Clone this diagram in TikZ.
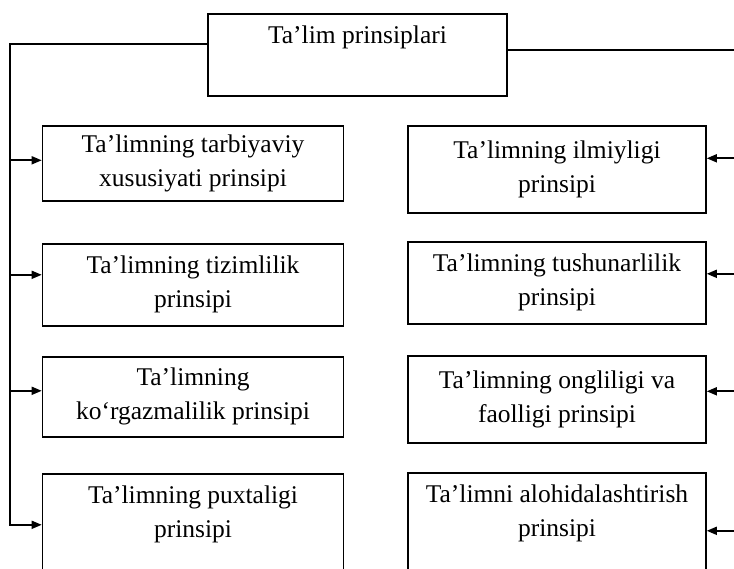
\documentclass[tikz,border=0pt]{standalone}
\usepackage{fontspec}
\setmainfont{Liberation Serif}
\usetikzlibrary{arrows.meta,positioning}

\tikzset{
  frame/.style={draw, line width=1.6pt, inner sep=0pt},
  box/.style={frame, minimum width=301pt, align=center, font=\fontsize{25.5}{34}\selectfont},
  rbox/.style={box, minimum width=298pt},
  caption/.style={inner sep=0pt, align=center, font=\fontsize{25.5}{34}\selectfont},
  feed/.style={line width=1.6pt, -{Triangle[length=10pt,width=8pt]}},
}

\begin{document}
\begin{tikzpicture}[x=1pt,y=-1pt]
  \clip (0,0) rectangle (734,569);
  \fill[white] (0,0) rectangle (734,569);

  % root box, text near its top
  \node[frame, minimum width=299pt, minimum height=82pt, anchor=north] (root) at (357.5,13) {};
  \node[caption, below=13pt of root.north] (roottext) {Ta’lim prinsiplari};

  % left column
  \node[box, minimum height=75pt, anchor=north] (l1) at (193,125) {Ta’limning tarbiyaviy\\xususiyati prinsipi};
  \node[box, minimum height=82pt, anchor=north] (l2) at (193,243) {Ta’limning tizimlilik\\prinsipi};
  \node[box, minimum height=80pt, anchor=north] (l3) at (193,356) {Ta’limning\\ko‘rgazmalilik prinsipi};
  \node[frame, minimum width=301pt, minimum height=102pt, anchor=north] (l4) at (193,473) {};
  \node[caption, below=13pt of l4.north] (l4text) {Ta’limning puxtaligi\\prinsipi};

  % right column
  \node[rbox, minimum height=87pt, anchor=north] (r1) at (557,125) {Ta’limning ilmiyligi\\prinsipi};
  \node[rbox, minimum height=82pt, anchor=north] (r2) at (557,241) {Ta’limning tushunarlilik\\prinsipi};
  \node[rbox, minimum height=87pt, anchor=north] (r3) at (557,355) {Ta’limning ongliligi va\\faolligi prinsipi};
  \node[frame, minimum width=298pt, minimum height=116pt, anchor=north] (r4) at (557,472) {};
  \node[caption, below=13pt of r4.north] (r4text) {Ta’limni alohidalashtirish\\prinsipi};

  % arrow ends, a little above the box middles
  \coordinate (l1in) at ([yshift=3pt]l1.west);
  \coordinate (l2in) at ([yshift=10pt]l2.west);
  \coordinate (l3in) at ([yshift=6pt]l3.west);
  \coordinate (r1in) at ([yshift=11pt]r1.east);
  \coordinate (r2in) at ([yshift=9pt]r2.east);
  \coordinate (r3in) at ([yshift=8pt]r3.east);

  % left trunk
  \coordinate (ltop) at (10,44);
  \draw[feed] (root.west |- ltop) -- (ltop) |- (l4.west);
  \draw[feed] (ltop |- l1in) -- (l1in);
  \draw[feed] (ltop |- l2in) -- (l2in);
  \draw[feed] (ltop |- l3in) -- (l3in);

  % right trunk (runs off the page)
  \coordinate (rtop) at (745,50);
  \draw[feed] (root.east |- rtop) -- (rtop) |- (r4.east);
  \draw[feed] (rtop |- r1in) -- (r1in);
  \draw[feed] (rtop |- r2in) -- (r2in);
  \draw[feed] (rtop |- r3in) -- (r3in);
\end{tikzpicture}
\end{document}
